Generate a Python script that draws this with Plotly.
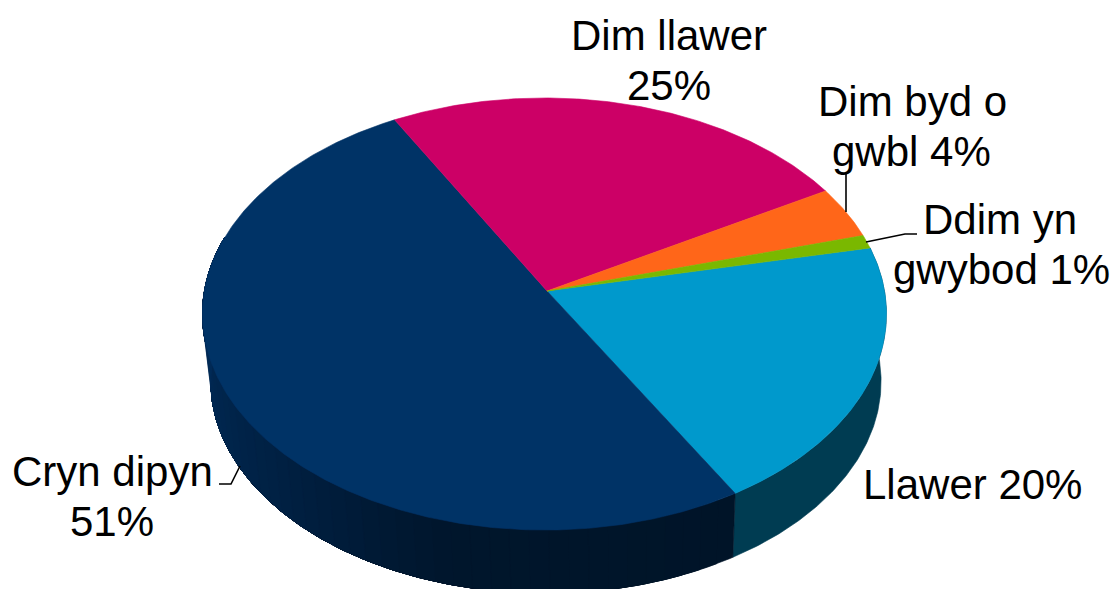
import numpy as np
import plotly.graph_objects as go

# --- data, clockwise from the start of the first slice (shares of the whole, %) ---
categories = ["Llawer", "Cryn dipyn", "Dim llawer", "Dim byd o gwbl", "Ddim yn gwybod"]
values = [19.8, 50.5, 24.8, 3.9, 1.0]
top_colors = ["#0099CC", "#003366", "#CC0066", "#FF6619", "#7AB800"]
label_lines = [
    ["Llawer 20%"],
    ["Cryn dipyn", "51%"],
    ["Dim llawer", "25%"],
    ["Dim byd o", "gwbl 4%"],
    ["Ddim yn", "gwybod 1%"],
]

# --- projection of the disc (a tilted circle in perspective) ---
W, H = 1115, 589
APEX_X, APEX_Y = 547.0, 291.0
RIM_X, WALL_X = 544.5, 546.0
A, B, K = 340.0, 213.6, 0.1065
START = 78.1
DEPTH, SHRINK = 68.0, 0.98


def project(deg, wall=False):
    t = np.radians(deg)
    u, v = np.sin(t), np.cos(t)
    d = 1 + K * v
    x, y = A * u / d, -B * v / d
    if wall:
        return WALL_X + SHRINK * x, APEX_Y + DEPTH + SHRINK * y
    return RIM_X + x, APEX_Y + y


def mix(stops, p):
    xs = [s[0] for s in stops]
    rgb = [np.interp(p, xs, [s[1][i] for s in stops]) for i in range(3)]
    return "rgb(%d,%d,%d)" % tuple(round(c) for c in rgb)


fractions = np.array(values, dtype=float) / sum(values)
edges = START + np.concatenate([[0], np.cumsum(fractions)]) * 360

fig = go.Figure()


def poly(xs, ys, color, width=0.6):
    fig.add_trace(go.Scatter(
        x=xs, y=ys, mode="lines", fill="toself", fillcolor=color,
        line=dict(color=color, width=width), hoverinfo="skip", showlegend=False))


def wall_poly(a0, a1, color):
    ang = np.linspace(a0, a1, max(6, int((a1 - a0) * 2)))
    tx, ty = project(ang)
    bx, by = project(ang[::-1], wall=True)
    poly(np.r_[tx, bx, tx[0]], np.r_[ty, by, ty[0]], color)


# side walls: each shaded band runs on to the far end and the next paints over it,
# so no seams show between the bands
NAVY_END = 285.0
navy_stops = [(150, (0, 20, 40)), (195, (0, 22, 44)), (225, (0, 32, 66)), (270, (0, 43, 88)), (285, (0, 45, 92))]
wall_poly(edges[0], edges[1], "#003C52")
for a in np.arange(edges[1], NAVY_END - 1, 3.0):
    wall_poly(a, NAVY_END, mix(navy_stops, a + 1.5))

# top surface
for i, color in enumerate(top_colors):
    n = max(6, int((edges[i + 1] - edges[i]) * 2))
    ang = np.linspace(edges[i], edges[i + 1], n)
    ex, ey = project(ang)
    poly(np.r_[APEX_X, ex, APEX_X], np.r_[APEX_Y, ey, APEX_Y], color)

# leader lines
for lx, ly in [([846, 846], [172, 212]),
               ([917, 905, 866], [234, 234, 242]),
               ([219, 231, 240], [484, 484, 466])]:
    fig.add_trace(go.Scatter(x=lx, y=ly, mode="lines", line=dict(color="#000000", width=1.6),
                             hoverinfo="skip", showlegend=False))

# labels, one annotation per line so the line spacing can follow the picture
label_xy = [[(972, 484)],
            [(112, 471), (112, 521)],
            [(669, 35), (669, 85)],
            [(912, 101), (911, 151)],
            [(1000, 219), (1001, 269)]]
annotations = []
for lines, places in zip(label_lines, label_xy):
    for text, (x, y) in zip(lines, places):
        annotations.append(dict(x=x, y=y, xref="x", yref="y", text=text, showarrow=False,
                                xanchor="center", yanchor="middle",
                                font=dict(family="Liberation Sans", size=42, color="#000000")))

fig.update_layout(
    width=W, height=H, autosize=False,
    margin=dict(l=0, r=0, t=0, b=0),
    paper_bgcolor="white", plot_bgcolor="white",
    showlegend=False, annotations=annotations,
    xaxis=dict(range=[0, W], visible=False, fixedrange=True),
    yaxis=dict(range=[H, 0], visible=False, fixedrange=True),
)
fig.write_html("out.html", config={"displayModeBar": False},
               post_script="document.body.style.margin='0';document.body.style.overflow='hidden';")
